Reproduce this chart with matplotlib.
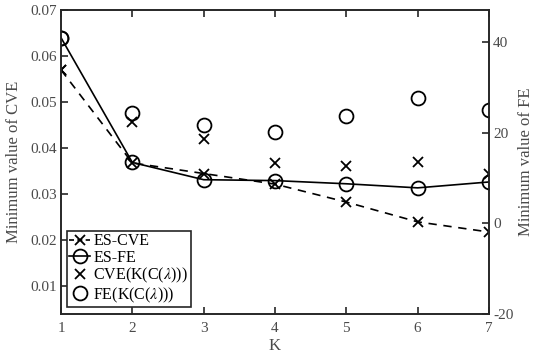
import matplotlib
matplotlib.use("Agg")
import matplotlib.pyplot as plt
from matplotlib.lines import Line2D

K = [1, 2, 3, 4, 5, 6, 7]
es_cve = [0.057, 0.0368, 0.0345, 0.0322, 0.0283, 0.0240, 0.0218]
es_fe = [40.9, 13.4, 9.6, 9.4, 8.7, 7.8, 9.1]
cve_kc = [0.057, 0.0457, 0.0420, 0.0368, 0.0361, 0.0370, 0.0345]
fe_kc = [40.9, 24.4, 21.7, 20.1, 23.7, 27.6, 25.0]

left_ticks = [0.01, 0.02, 0.03, 0.04, 0.05, 0.06, 0.07]
right_ticks = [-20, 0, 20, 40]

plt.rcParams['font.family'] = ['Liberation Serif', 'DejaVu Serif']
plt.rcParams['mathtext.fontset'] = 'stix'
plt.rcParams['axes.unicode_minus'] = False

tick_col = '#4a4a4a'
spine_col = '#262626'

fig = plt.figure(figsize=(5.34, 3.58), dpi=100)
ax = fig.add_axes([61/534, 1-314/358, 428/534, 304/358])
ax2 = ax.twinx()

ax.plot(K, es_cve, color='k', ls=(0, (5, 4)), lw=1.2, marker='x', ms=7, mew=1.3)
ax.plot(K, cve_kc, ls='none', color='k', marker='x', ms=7, mew=1.3)
ax2.plot(K, es_fe, color='k', ls='-', lw=1.2, marker='o', ms=10, mfc='none', mew=1.3)
ax2.plot(K, fe_kc, ls='none', color='k', marker='o', ms=10, mfc='none', mew=1.3)

ax.set_xlim(1, 7)
ax.set_ylim(0.004, 0.07)
ax2.set_ylim(-20, 47)
ax.set_xticks(K)
ax.set_yticks(left_ticks)
ax.set_yticklabels([f"{v:.2f}" for v in left_ticks])
ax2.set_yticks(right_ticks)

for a in (ax, ax2):
    for s in a.spines.values():
        s.set_color(spine_col)
        s.set_linewidth(1.2)
    a.tick_params(direction='in', length=5, width=1.2, color=spine_col,
                  labelcolor=tick_col, labelsize=11, pad=3)
ax.tick_params(axis='x', top=True, pad=6)
ax.set_xlabel('K', fontsize=12, color=tick_col, labelpad=2)
ax.set_ylabel('Minimum value of CVE', fontsize=12, color=tick_col, labelpad=6)
ax2.set_ylabel('Minimum value of FE', fontsize=12, color=tick_col, labelpad=3)

handles = [
    Line2D([], [], color='k', ls=(0, (3, 2)), lw=1.2, marker='x', ms=7, mew=1.3),
    Line2D([], [], color='k', ls='-', lw=1.2, marker='o', ms=10, mfc='none', mew=1.3),
    Line2D([], [], color='k', ls='none', marker='x', ms=7, mew=1.3),
    Line2D([], [], color='k', ls='none', marker='o', ms=10, mfc='none', mew=1.3),
]
labels = ['ES-CVE', 'ES-FE', r'CVE(K(C($\lambda$)))', r'FE(K(C($\lambda$)))']
leg = ax2.legend(handles, labels, loc='lower left', bbox_to_anchor=(0.014, 0.023),
                 borderaxespad=0, fontsize=11.5, handlelength=1.3, handletextpad=0.2,
                 labelspacing=0.02, borderpad=0.15, fancybox=False, framealpha=1,
                 edgecolor=spine_col)
leg.get_frame().set_linewidth(1.2)

fig.savefig('out.png', dpi=100)
